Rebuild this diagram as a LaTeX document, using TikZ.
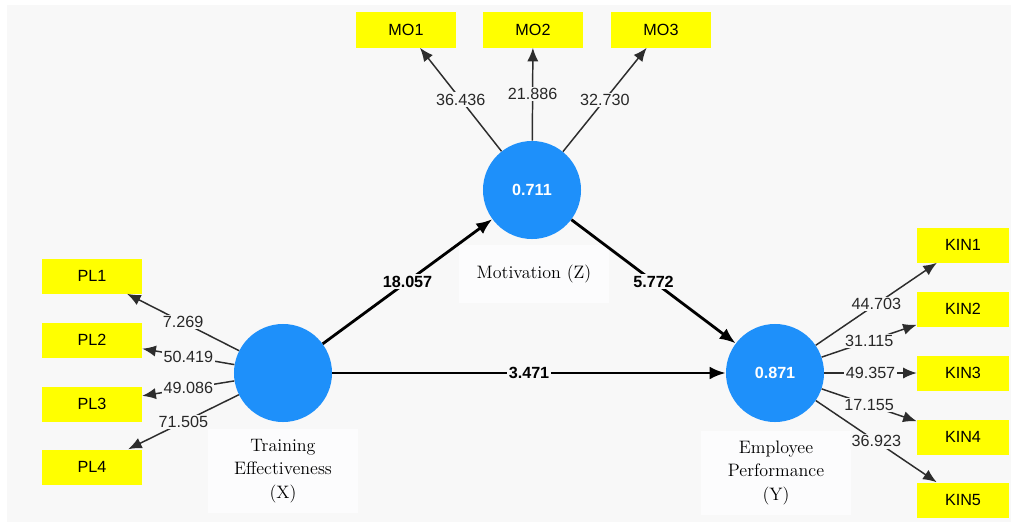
\documentclass[tikz,border=0pt]{standalone}
\usepackage{fontspec}
\newfontfamily\plssans{Liberation Sans}
\usepackage{tikz}
\usetikzlibrary{arrows.meta}
\definecolor{plsblue}{RGB}{30,144,250}
\definecolor{plsyellow}{RGB}{255,255,0}
\definecolor{plsback}{RGB}{248,248,248}
\definecolor{plsnameback}{RGB}{252,252,253}
\definecolor{plsline}{RGB}{45,45,45}
\definecolor{plstext}{RGB}{40,40,40}
\tikzset{
  plsind/.style={
    fill=plsyellow,
    inner sep=0pt,
    minimum width=2.5cm,
    minimum height=0.875cm,
    font=\plssans\fontsize{11.5}{13}\selectfont
  },
  plskin/.style={plsind,minimum width=2.3cm},
  plslatent/.style={circle,fill=plsblue,inner sep=0pt,minimum size=2.45cm,
                    text=white,font=\plssans\bfseries\fontsize{11.5}{13}\selectfont},
  plsname/.style={fill=plsnameback,align=center,inner sep=0pt,minimum width=3.75cm,
                  font=\fontsize{12.8}{16.5}\selectfont},
  plsload/.style={-{Latex[length=3.4mm,width=2.8mm]},line width=1.05pt,plsline},
  plspath/.style={-{Latex[length=4mm,width=3.2mm]},line width=2pt,black},
  plsloadlabel/.style={fill=plsback,inner sep=1pt,text=plstext,
                       font=\plssans\fontsize{11.5}{13}\selectfont},
  plspathlabel/.style={plsloadlabel,text=black,
                       font=\plssans\bfseries\fontsize{11.5}{13}\selectfont}
}
\begin{document}
\begin{tikzpicture}[x=0.025cm,y=-0.025cm]
  \useasboundingbox (0,0) rectangle (1011,527);
  \fill[plsback] (7,5) rectangle (1011,522);

  % latent variable names
  \node[plsname,minimum height=1.45cm] (Zname) at (534,274) {Motivation (Z)};
  \node[plsname,minimum height=2.1cm] (Xname) at (283,471) {Training\\Effectiveness\\(X)};
  \node[plsname,minimum height=2.1cm] (Yname) at (776,473) {Employee\\Performance\\(Y)};

  % latent variables
  \node[plslatent] (Z) at (532,190) {0.711};
  \node[plslatent] (X) at (283,373) {};
  \node[plslatent] (Y) at (775,373) {0.871};

  % indicators
  \node[plsind] (MO1) at (406,30) {MO1};
  \node[plsind] (MO2) at (533,30) {MO2};
  \node[plsind] (MO3) at (661,30) {MO3};

  \node[plsind] (PL1) at (92,276) {PL1};
  \node[plsind] (PL2) at (92,340) {PL2};
  \node[plsind] (PL3) at (92,404) {PL3};
  \node[plsind] (PL4) at (92,467) {PL4};

  \node[plskin] (KIN1) at (963,245) {KIN1};
  \node[plskin] (KIN2) at (963,309) {KIN2};
  \node[plskin] (KIN3) at (963,373) {KIN3};
  \node[plskin] (KIN4) at (963,437) {KIN4};
  \node[plskin] (KIN5) at (963,500) {KIN5};

  % outer loadings
  \draw[plsload] (Z) -- node[plsloadlabel] {36.436} (MO1);
  \draw[plsload] (Z) -- node[plsloadlabel] {21.886} (MO2);
  \draw[plsload] (Z) -- node[plsloadlabel] {32.730} (MO3);

  \draw[plsload] (X) -- node[plsloadlabel] {7.269} (PL1);
  \draw[plsload] (X) -- node[plsloadlabel] {50.419} (PL2);
  \draw[plsload] (X) -- node[plsloadlabel] {49.086} (PL3);
  \draw[plsload] (X) -- node[plsloadlabel] {71.505} (PL4);

  \draw[plsload] (Y) -- node[plsloadlabel] {44.703} (KIN1);
  \draw[plsload] (Y) -- node[plsloadlabel] {31.115} (KIN2);
  \draw[plsload] (Y) -- node[plsloadlabel] {49.357} (KIN3);
  \draw[plsload] (Y) -- node[plsloadlabel] {17.155} (KIN4);
  \draw[plsload] (Y) -- node[plsloadlabel] {36.923} (KIN5);

  % inner model
  \draw[plspath] (X) -- node[plspathlabel] {18.057} (Z);
  \draw[plspath] (Z) -- node[plspathlabel] {5.772} (Y);
  \draw[plspath] (X) -- node[plspathlabel] {3.471} (Y);
\end{tikzpicture}
\end{document}
